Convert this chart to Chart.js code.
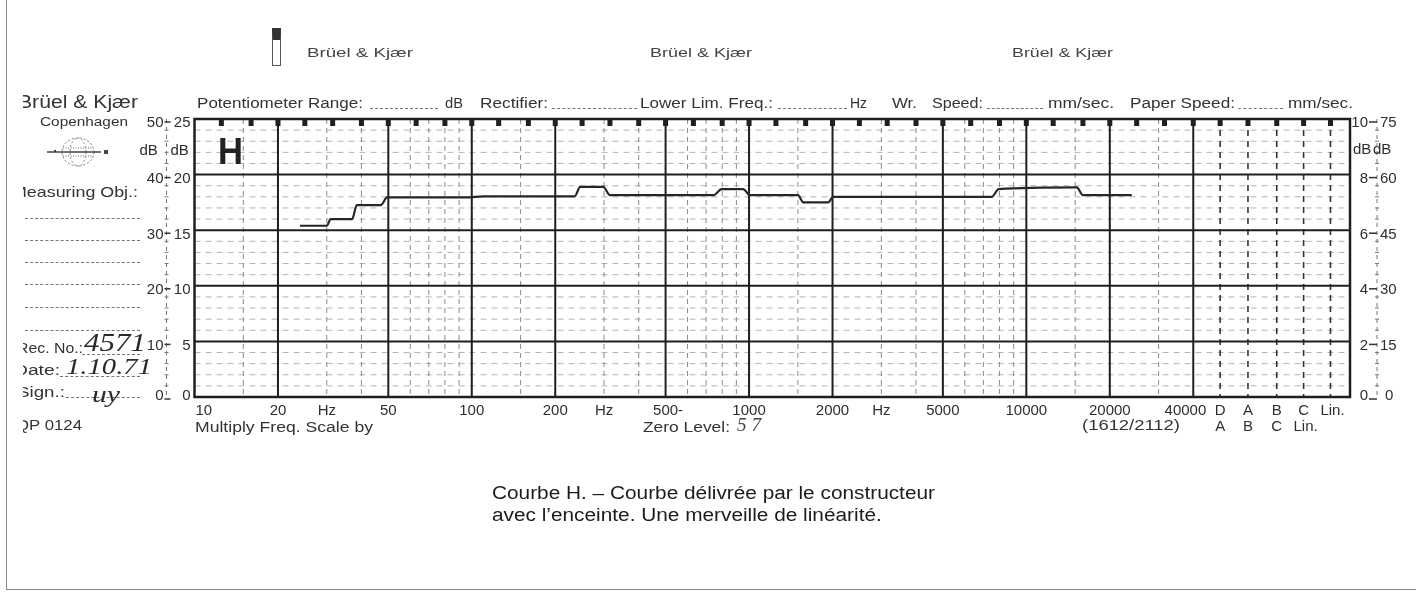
<!DOCTYPE html>
<html>
<head>
<meta charset="utf-8">
<script src="https://cdn.jsdelivr.net/npm/chart.js@4.4.1/dist/chart.umd.min.js"></script>
<style>
html, body { margin: 0; padding: 0; background: #fff; }
#page { position: relative; width: 1416px; height: 594px; overflow: hidden; font-family: "Liberation Sans", Arial, sans-serif; color: #333; }
#paper { position: absolute; left: 0; top: 0; }
.t { position: absolute; white-space: nowrap; line-height: 1; transform-origin: 0 50%; }
.u { position: absolute; height: 0; border-bottom: 1px dashed #777; }
#clip { position: absolute; left: 23px; top: 0; width: 150px; height: 594px; overflow: hidden; }
</style>
</head>
<body>
<div id="page">
  <canvas id="paper" width="1416" height="594"></canvas>
  <div id="clip"></div>
</div>
<script>
// response curve (Hz, dB on the 50 dB scale)
const freqs  = [24, 30, 31, 37, 38.5, 47, 49.5, 96, 110, 235, 246, 298, 315, 745, 796, 953, 1007, 1500, 1570, 1930, 2010, 4000, 7500, 7950, 15200, 16000, 24000];
const levels = [30.8, 30.8, 32.0, 32.0, 34.5, 34.5, 35.9, 35.9, 36.1, 36.1, 37.8, 37.8, 36.3, 36.3, 37.4, 37.4, 36.3, 36.3, 35.0, 35.0, 36.0, 36.0, 36.0, 37.4, 37.7, 36.3, 36.3];

// paper grid
const majorFreqs = [20, 50, 100, 200, 500, 1000, 2000, 5000, 10000, 20000, 40000];
const minorFreqs = [15, 30, 40, 60, 70, 80, 90, 150, 300, 400, 600, 700, 800, 900, 1500, 3000, 4000, 6000, 7000, 8000, 9000, 15000, 30000];
const thirdOct = [12.5, 16, 20, 25, 31.5, 40, 50, 63, 80, 100, 125, 160, 200, 250, 315, 400, 500, 630, 800, 1000, 1250, 1600, 2000, 2500, 3150, 4000, 5000, 6300, 8000, 10000, 12500, 16000, 20000, 25000, 31500, 40000, 50000, 63000, 80000, 100000, 125000];
const filterFreqs = [50000, 63000, 80000, 100000, 125000];
const yMajor = [0, 10, 20, 30, 40, 50];
const yMinor = [2, 4, 6, 8, 12, 14, 16, 18, 22, 24, 26, 28, 32, 34, 36, 38, 42, 44, 46, 48];
const X_MIN = 10, X_MAX = 147000;

// tick labels
const freqTicks  = [10, 20, 50, 100, 200, 500, 1000, 2000, 5000, 10000, 20000, 40000];
const freqLabels = ['10', '20', '50', '100', '200', '500-', '1000', '2000', '5000', '10000', '20000', '40000'];
const hzTicks = [30, 300, 3000];
const filterRow1 = ['D', 'A', 'B', 'C', 'Lin.'];
const filterRow2 = ['A', 'B', 'C', 'Lin.'];
const leftOuter  = ['0', '10', '20', '30', '40', '50'];
const leftInner  = ['0', '5', '10', '15', '20', '25'];
const rightOuter = ['0', '2', '4', '6', '8', '10'];
const rightInner = ['0', '15', '30', '45', '60', '75'];

const INK = '#1f1f1f';
const LABEL_FONT = '15px "Liberation Sans", Arial, sans-serif';

function vline(ctx, px, top, bottom, w, col, dash) {
    ctx.beginPath();
    ctx.lineWidth = w; ctx.strokeStyle = col; ctx.setLineDash(dash || []);
    ctx.moveTo(px, top); ctx.lineTo(px, bottom); ctx.stroke();
}
function hline(ctx, py, left, right, w, col, dash) {
    ctx.beginPath();
    ctx.lineWidth = w; ctx.strokeStyle = col; ctx.setLineDash(dash || []);
    ctx.moveTo(left, py); ctx.lineTo(right, py); ctx.stroke();
}

const paperGrid = {
    id: 'paperGrid',
    beforeDatasetsDraw(chart) {
        const { ctx, chartArea: a, scales: { x, y } } = chart;
        ctx.save();
        yMinor.forEach(v => hline(ctx, y.getPixelForValue(v), a.left, a.right, 1, '#b4b4b4', [6, 5]));
        minorFreqs.forEach(f => vline(ctx, x.getPixelForValue(f), a.top, a.bottom, 1, '#8a8a8a', [5, 4]));
        filterFreqs.forEach(f => vline(ctx, x.getPixelForValue(f), a.top, a.bottom, 1.6, '#333', [6, 5]));
        yMajor.slice(1, -1).forEach(v => hline(ctx, y.getPixelForValue(v), a.left, a.right, 2, INK));
        majorFreqs.forEach(f => vline(ctx, x.getPixelForValue(f), a.top, a.bottom, 2, INK));
        ctx.setLineDash([]);
        ctx.lineWidth = 2.5; ctx.strokeStyle = INK;
        ctx.strokeRect(a.left, a.top, a.right - a.left, a.bottom - a.top);
        ctx.fillStyle = INK;
        thirdOct.forEach(f => {
            const px = x.getPixelForValue(f);
            ctx.fillRect(px - 2.5, a.top, 5, 7);
        });
        // dashed helper scales beside the paper
        [a.left - 28, a.right + 27].forEach(px => {
            vline(ctx, px, a.top, a.bottom, 1, '#777', [4, 4]);
            yMinor.forEach(v => hline(ctx, y.getPixelForValue(v), px - 2, px + 2, 1, '#777'));
        });
        ctx.restore();
    },
    afterDraw(chart) {
        const { ctx, chartArea: a, scales: { x, y } } = chart;
        ctx.save();
        ctx.font = LABEL_FONT;
        ctx.fillStyle = '#2e2e2e';
        ctx.textBaseline = 'alphabetic';
        const base = yc => yc + 5.4;

        // frequency row
        const row1 = 410, row2 = 426;
        freqTicks.forEach((f, i) => {
            const px = x.getPixelForValue(f);
            const lab = freqLabels[i];
            const core = lab.replace(/-$/, '');
            ctx.textAlign = 'left';
            if (i === 0) ctx.fillText(lab, px + 1, base(row1));
            else if (i === freqTicks.length - 1) { ctx.textAlign = 'right'; ctx.fillText(lab, px + 13, base(row1)); }
            else ctx.fillText(lab, px - ctx.measureText(core).width / 2, base(row1));
        });
        ctx.textAlign = 'center';
        hzTicks.forEach(f => ctx.fillText('Hz', x.getPixelForValue(f), base(row1)));
        filterRow1.forEach((s, i) => ctx.fillText(s, x.getPixelForValue(filterFreqs[i]) + (s === 'Lin.' ? 2 : 0), base(row1)));
        filterRow2.forEach((s, i) => ctx.fillText(s, x.getPixelForValue(filterFreqs[i]) + (s === 'Lin.' ? 2 : 0), base(row2)));

        // dB scales
        yMajor.forEach((v, i) => {
            const py = y.getPixelForValue(v);
            const yc = Math.min(py + 3, 395);
            ctx.textAlign = 'right';
            ctx.fillText(leftOuter[i], a.left - 31, base(yc));
            ctx.fillText(leftInner[i], a.left - 4, base(yc));
            ctx.fillText(rightOuter[i], a.right + 18, base(yc));
            ctx.textAlign = 'left';
            ctx.fillText(rightInner[i], a.right + (i === 0 ? 35 : 30), base(yc));
            const dashY = i === 0 ? 399 : yc;
            hline(ctx, dashY, a.left - 30, a.left - 24, 1.5, '#333');
            hline(ctx, dashY, a.right + 19, a.right + 27, 1.5, '#333');
        });
        ctx.textAlign = 'left';
        ctx.fillText('dB', a.left - 55, base(150));
        ctx.fillText('dB', a.left - 24, base(150));
        ctx.fillText('dB', a.right + 3, base(149));
        ctx.fillText('dB', a.right + 23, base(149));
        ctx.restore();
    }
};

const points = freqs.map((f, i) => ({ x: f, y: levels[i] }));

new Chart(document.getElementById('paper'), {
    type: 'line',
    data: {
        datasets: [{
            data: points,
            borderColor: '#262626',
            borderWidth: 2.2,
            pointRadius: 0,
            cubicInterpolationMode: 'monotone',
            fill: false
        }]
    },
    options: {
        responsive: false,
        animation: false,
        events: [],
        layout: { padding: { left: 194.5, top: 119, right: 66, bottom: 197 } },
        plugins: { legend: { display: false }, tooltip: { enabled: false } },
        scales: {
            x: { type: 'logarithmic', min: X_MIN, max: X_MAX, display: false },
            y: { type: 'linear', min: 0, max: 50, display: false }
        }
    },
    plugins: [paperGrid]
});

// printed form text around the paper
const page = document.getElementById('page');
const clip = document.getElementById('clip');

function put(parent, txt, x, yc, size, w, style) {
    const d = document.createElement('div');
    d.className = 't';
    d.textContent = txt;
    d.style.fontSize = size + 'px';
    d.style.left = x + 'px';
    d.style.top = (yc - size * 0.49) + 'px';
    if (style) Object.assign(d.style, style);
    parent.appendChild(d);
    if (w) {
        const k = w / d.getBoundingClientRect().width;
        d.style.transform = 'scaleX(' + k.toFixed(3) + ')';
    }
    return d;
}
function under(parent, x1, x2, yy) {
    const d = document.createElement('div');
    d.className = 'u';
    d.style.left = x1 + 'px'; d.style.width = (x2 - x1) + 'px'; d.style.top = yy + 'px';
    parent.appendChild(d);
}

// top brand strip
const logo = document.createElement('div');
logo.style.cssText = 'position:absolute;left:272px;top:28px;width:9px;height:38px;border:1px solid #555;border-top:12px solid #333;box-sizing:border-box;';
page.appendChild(logo);
put(page, 'Brüel & Kjær', 307, 52, 13, 106, { color: '#444' });
put(page, 'Brüel & Kjær', 650, 52, 13, 102, { color: '#444' });
put(page, 'Brüel & Kjær', 1012, 52, 13, 101, { color: '#444' });

// header fields
const H = 103;
put(page, 'Potentiometer Range:', 197, H, 14, 166);
under(page, 370, 438, 108);
put(page, 'dB', 445, H, 14, 18);
put(page, 'Rectifier:', 480, H, 14, 68);
under(page, 552, 637, 108);
put(page, 'Lower Lim. Freq.:', 640, H, 14, 133);
under(page, 778, 847, 108);
put(page, 'Hz', 850, H, 14, 17);
put(page, 'Wr.', 892, H, 14, 25);
put(page, 'Speed:', 932, H, 14, 51);
under(page, 987, 1043, 108);
put(page, 'mm/sec.', 1048, H, 14, 66);
put(page, 'Paper Speed:', 1130, H, 14, 105);
under(page, 1238, 1283, 108);
put(page, 'mm/sec.', 1288, H, 14, 65);

put(page, 'H', 218, 151, 37, 25, { fontWeight: 'bold', color: '#222' });

// bottom form line
put(page, 'Multiply Freq. Scale by', 195, 426.5, 14, 178);
put(page, 'Zero Level:', 643, 426.5, 14, 87);
put(page, '5 7', 737, 425, 18, 24, { fontFamily: '"Liberation Serif", serif', fontStyle: 'italic', color: '#444' });
put(page, '(1612/2112)', 1082, 425, 14, 98);

// left block (scan cuts its left edge)
const cx = v => v - 23;
put(clip, 'Brüel & Kjær', cx(18), 102, 18, 120);
put(clip, 'Copenhagen', cx(40), 122, 12, 88);
const globe = document.createElementNS('http://www.w3.org/2000/svg', 'svg');
globe.setAttribute('width', '70'); globe.setAttribute('height', '36');
globe.style.cssText = 'position:absolute;left:' + cx(45) + 'px;top:135px;';
globe.innerHTML = '<ellipse cx="33" cy="17" rx="16" ry="14" fill="none" stroke="#777" stroke-width="1" stroke-dasharray="2 2"/>' +
    '<ellipse cx="33" cy="17" rx="8" ry="14" fill="none" stroke="#888" stroke-width="1" stroke-dasharray="2 2"/>' +
    '<line x1="2" y1="17" x2="56" y2="17" stroke="#444" stroke-width="1.5"/>' +
    '<rect x="59" y="15" width="4" height="4" fill="#444"/><circle cx="10" cy="16" r="1.2" fill="#444"/>' +
    '<line x1="18" y1="13" x2="48" y2="13" stroke="#666" stroke-dasharray="1 1.5"/><line x1="18" y1="21" x2="48" y2="21" stroke="#666" stroke-dasharray="1 1.5"/>';
clip.appendChild(globe);
put(clip, 'Measuring Obj.:', cx(12), 191, 15, 126);
[218, 240, 262, 284, 307, 330].forEach(yy => under(clip, cx(25), cx(140), yy));
put(clip, 'Rec. No.:', cx(17), 348, 14, 66);
under(clip, cx(82), cx(140), 354);
put(clip, 'Date:', cx(14), 370, 14, 46);
under(clip, cx(60), cx(140), 376);
put(clip, 'Sign.:', cx(17), 392, 14, 48);
under(clip, cx(66), cx(140), 397);
put(clip, 'QP 0124', cx(16), 424, 15, 66);
put(clip, '4571', cx(84), 343, 26, 62, { fontFamily: '"Liberation Serif", serif', fontStyle: 'italic', color: '#2a2a2a' });
put(clip, '1.10.71', cx(66), 366, 24, 86, { fontFamily: '"Liberation Serif", serif', fontStyle: 'italic', color: '#2a2a2a' });
put(clip, 'uy', cx(92), 394, 24, 28, { fontFamily: '"Liberation Serif", serif', fontStyle: 'italic', color: '#2a2a2a' });

// caption
const c1 = put(page, 'Courbe H. – Courbe délivrée par le constructeur', 492, 493, 18, 443, { color: '#1c1c1c' });
const c2 = put(page, 'avec l’enceinte. Une merveille de linéarité.', 492, 515, 18, null, { color: '#1c1c1c' });
c2.style.transform = c1.style.transform;

// scan frame
const fl = document.createElement('div');
fl.style.cssText = 'position:absolute;left:6px;top:0;width:0;height:590px;border-left:1.5px solid #888;';
page.appendChild(fl);
const fb = document.createElement('div');
fb.style.cssText = 'position:absolute;left:6px;top:589px;width:1410px;height:0;border-top:1.5px solid #888;';
page.appendChild(fb);
</script>
</body>
</html>
